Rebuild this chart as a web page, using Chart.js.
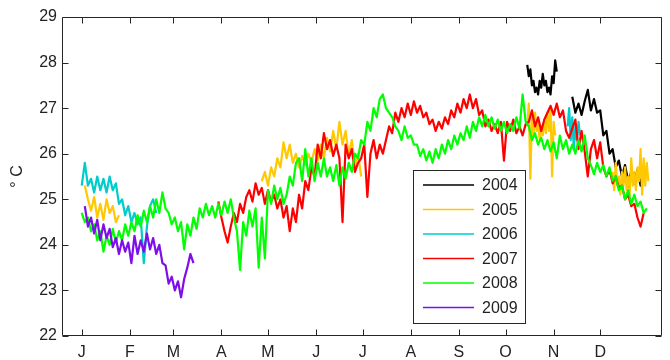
<!DOCTYPE html>
<html>
<head>
<meta charset="utf-8">
<script src="https://cdn.jsdelivr.net/npm/chart.js@4.4.1/dist/chart.umd.min.js"></script>
<style>
  html, body { margin: 0; padding: 0; background: #fff; }
</style>
</head>
<body>
<canvas id="myChart" width="670" height="360"></canvas>
<script>
// x axis is day of year, tick at the first day of each month
const month_days = [1, 32, 60, 91, 121, 152, 182, 213, 244, 274, 305, 335];
const month_labels = ["J", "F", "M", "A", "M", "J", "J", "A", "S", "O", "N", "D"];
const year_labels = ["2004", "2005", "2006", "2007", "2008", "2009"];
const year_colors = ["#000000", "#ffc800", "#00cccc", "#ff0000", "#00ff00", "#7f0fe8"];

// each segment: [first day, day step, values]
const t2004_a = [27.95, 27.7, 27.85, 27.5, 27.6, 27.35, 27.45, 27.3, 27.6, 27.45,
  27.75, 27.5, 27.6, 27.35, 27.45, 27.3, 27.7, 27.55, 28.05, 27.8];
const t2004_b = [27.25, 26.9, 27.1, 26.85, 27.15, 27.4, 26.95, 27.2, 26.9, 26.95,
  26.4, 26.5, 26.0, 26.1, 25.7, 25.85, 25.5, 25.75, 25.4, 25.6,
  25.35, 25.65, 25.3, 25.7, 25.5];

const t2005_a = [25.3, 25.0, 24.75, 25.05, 24.6, 24.9, 24.55, 25.0, 24.7, 24.85, 24.5, 24.65];
const t2005_b = [25.4, 25.6, 25.3, 25.7, 25.5, 25.9, 25.7, 26.25, 25.9, 26.2,
  25.8, 26.0, 25.7, 25.95, 25.75, 26.0, 25.8, 26.1, 25.85, 26.2,
  25.9, 26.35, 26.05, 26.5, 26.1, 26.7, 26.2, 26.5, 25.95, 26.3,
  25.7, 26.0, 25.5];
const t2005_c = [26.6, 27.1, 25.45, 26.8, 26.4, 26.9, 26.5, 26.7, 26.3, 26.6,
  26.4, 26.75, 26.45, 26.9, 26.5, 27.0, 25.5, 26.7, 26.4];
const t2005_d = [25.6, 25.2, 25.8, 25.3, 25.5, 25.1, 25.6, 25.3, 25.7, 25.2,
  25.5, 25.1, 25.9, 25.3, 25.6, 25.2, 25.7, 25.4, 26.1, 25.1,
  25.9, 25.3, 25.8, 25.4];

const t2006_a = [25.3, 25.8, 25.3, 25.45, 25.15, 25.5, 25.2, 25.45, 25.15, 25.5,
  25.2, 25.35, 24.9, 25.0, 24.65, 24.85, 24.5, 24.7, 24.45, 24.6,
  23.6, 24.4, 24.85, 25.0, 24.7];
const t2006_b = [26.6, 27.0, 26.3, 26.8, 26.1, 26.6, 26.3, 26.7, 26.4];

const t2007 = [24.95, 24.6, 24.3, 24.05, 24.4, 24.7, 24.5, 24.9, 24.7, 25.05,
  25.2, 24.95, 25.35, 25.1, 25.25, 24.9, 25.2, 24.95, 25.1, 24.8,
  25.0, 24.6, 24.85, 24.3, 24.8, 24.5, 25.1, 24.8, 25.4, 25.2,
  25.7, 25.5, 26.2, 25.9, 26.45, 26.1, 26.3, 25.95, 26.2, 25.9,
  24.5, 26.2, 25.9, 26.1, 25.6, 25.8, 25.9, 26.2, 25.05, 26.0,
  26.3, 25.9, 26.2, 26.0, 26.3, 26.6, 26.45, 26.9, 26.7, 27.0,
  26.8, 27.1, 26.85, 27.15, 26.9, 27.05, 26.8, 26.9, 26.65, 26.75,
  26.5, 26.7, 26.55, 26.8, 26.65, 26.95, 26.8, 27.1, 26.9, 27.2,
  27.0, 27.3, 27.0, 27.2, 26.85, 26.95, 26.6, 26.75, 26.5, 26.65,
  26.45, 26.7, 25.85, 26.7, 26.5, 26.75, 26.45, 26.6, 26.4, 26.65,
  26.7, 26.95, 26.6, 26.8, 26.5, 26.75, 26.9, 27.05, 26.85, 27.1,
  26.8, 26.95, 26.5, 26.35, 26.55, 26.75, 26.1, 26.5, 26.05, 25.5,
  26.1, 26.3, 25.9, 26.25, 25.7, 25.5, 25.65, 25.35, 25.5, 25.25,
  25.3, 25.0, 25.1, 24.85, 24.9, 24.6, 24.4, 24.7];

const t2008 = [24.7, 24.5, 24.6, 24.3, 24.45, 24.1, 24.3, 23.85, 24.2, 24.0,
  24.35, 24.05, 24.3, 24.1, 24.45, 24.2, 24.5, 24.3, 24.65, 24.4,
  24.75, 24.5, 24.85, 24.6, 25.0, 24.7, 25.15, 24.8, 24.7, 24.45,
  24.6, 24.3, 24.5, 23.9, 24.45, 24.2, 24.6, 24.35, 24.8, 24.6,
  24.9, 24.65, 24.85, 24.6, 24.9, 24.65, 24.95, 24.7, 25.0, 24.6,
  24.3, 23.45, 24.5, 24.2, 24.75, 24.4, 24.8, 23.5, 24.6, 23.7,
  25.2, 24.9, 25.3, 25.0, 25.25, 24.9, 25.1, 25.5, 25.3, 25.8,
  25.9, 25.4, 26.1, 25.5, 25.9, 25.4, 25.8, 25.5, 25.9, 25.5,
  25.7, 25.4, 25.75, 25.3, 25.7, 25.45, 25.8, 25.6, 26.0, 25.9,
  26.3, 26.2, 26.7, 26.5, 27.0, 26.8, 27.2, 27.3, 27.0, 26.9,
  26.8, 26.6, 26.5, 26.3, 26.6, 26.35, 26.4, 26.2, 26.2, 25.95,
  26.1, 25.85, 26.05, 25.8, 26.1, 25.9, 26.2, 26.0, 26.3, 26.1,
  26.4, 26.2, 26.45, 26.3, 26.6, 26.35, 26.7, 26.5, 26.8, 26.6,
  26.85, 26.6, 26.8, 26.55, 26.75, 26.5, 26.7, 26.45, 26.65, 26.5,
  26.8, 26.55, 27.3, 26.7, 26.6, 26.3, 26.45, 26.2, 26.35, 26.1,
  26.3, 26.05, 26.25, 25.9, 26.4, 26.1, 26.3, 26.0, 26.2, 26.0,
  26.3, 26.05, 26.4, 25.9, 25.75, 25.55, 25.8, 25.6, 25.75, 25.5,
  25.7, 25.4, 25.5, 25.2, 25.3, 25.0, 25.2, 24.9, 25.1, 24.85,
  24.95, 24.7, 24.8];

const t2009 = [24.85, 24.4, 24.6, 24.25, 24.55, 24.1, 24.45, 24.15, 24.35, 23.95,
  24.15, 23.8, 24.1, 23.85, 24.05, 23.6, 24.2, 23.8, 24.1, 23.85,
  24.25, 23.9, 24.15, 23.8, 24.0, 23.6, 23.55, 23.15, 23.3, 23.0,
  23.2, 22.85, 23.25, 23.5, 23.8, 23.6];

const segments = [
  [[288, 1, t2004_a], [317, 2, t2004_b]],
  [[3, 2, t2005_a], [117, 2, t2005_b], [288, 1, t2005_c], [343, 1, t2005_d]],
  [[1, 2, t2006_a], [314, 1, t2006_b]],
  [[89, 2, t2007]],
  [[1, 2, t2008]],
  [[3, 2, t2009]],
];

let make_points = (segs) => {
  let pts = [];
  segs.forEach(([start, step, vals], k) => {
    if (k > 0) pts.push({ x: start - 0.5, y: null });
    vals.forEach((v, i) => pts.push({ x: start + i * step, y: v }));
  });
  return pts;
};

const font_family = "'Liberation Sans', Arial, sans-serif";
const text_color = "#222";

// matlab style box with inward ticks on all four sides
const box_ticks = {
  id: "box_ticks",
  afterDatasetsDraw(chart) {
    const { ctx, chartArea: a, scales } = chart;
    const L = Math.round(a.left) + 0.5;
    const R = Math.round(a.right) - 0.5;
    const T = Math.round(a.top) + 0.5;
    const B = Math.round(a.bottom) - 0.5;
    const len = 6;
    ctx.save();
    ctx.strokeStyle = "#262626";
    ctx.lineWidth = 1;
    ctx.beginPath();
    ctx.rect(L, T, R - L, B - T);
    scales.x.ticks.forEach((t) => {
      let px = Math.round(scales.x.getPixelForValue(t.value)) + 0.5;
      ctx.moveTo(px, B);
      ctx.lineTo(px, B - len);
      ctx.moveTo(px, T);
      ctx.lineTo(px, T + len);
    });
    scales.y.ticks.forEach((t) => {
      let py = Math.round(scales.y.getPixelForValue(t.value)) + 0.5;
      ctx.moveTo(L, py);
      ctx.lineTo(L + len, py);
      ctx.moveTo(R, py);
      ctx.lineTo(R - len, py);
    });
    ctx.stroke();

    // legend box
    const lx = 413.5, ly = 170.5, lw = 112, lh = 153;
    ctx.fillStyle = "#fff";
    ctx.fillRect(lx, ly, lw, lh);
    ctx.strokeStyle = "#262626";
    ctx.strokeRect(lx, ly, lw, lh);
    ctx.font = "16px " + font_family;
    ctx.textBaseline = "middle";
    ctx.textAlign = "left";
    chart.data.datasets.forEach((ds, i) => {
      let ry = 185 + i * 24.5;
      ctx.strokeStyle = ds.borderColor;
      ctx.lineWidth = 1.5;
      ctx.beginPath();
      ctx.moveTo(423, ry);
      ctx.lineTo(474, ry);
      ctx.stroke();
      ctx.fillStyle = text_color;
      ctx.fillText(ds.label, 482, ry + 1);
    });
    ctx.restore();
  },
};

const ctx = document.getElementById("myChart").getContext("2d");

const myChart = new Chart(ctx, {
  type: "line",
  data: {
    datasets: year_labels.map((label, i) => ({
      label: label,
      data: make_points(segments[i]),
      borderColor: year_colors[i],
      borderWidth: 2.2,
      borderJoinStyle: "round",
      pointRadius: 0,
      tension: 0,
      spanGaps: false,
      order: year_labels.length - i,
    })),
  },
  options: {
    responsive: false,
    animation: false,
    devicePixelRatio: 1,
    layout: { padding: { top: 17, right: 8, left: 0, bottom: 0 } },
    plugins: {
      legend: { display: false },
      tooltip: { enabled: false },
    },
    scales: {
      x: {
        type: "linear",
        min: -11.7,
        max: 374.8,
        afterBuildTicks: (scale) => {
          scale.ticks = month_days.map((d) => ({ value: d }));
        },
        afterFit: (scale) => {
          scale.height = 24;
        },
        grid: { display: false, drawTicks: false },
        border: { display: false },
        ticks: {
          autoSkip: false,
          maxRotation: 0,
          padding: 7,
          color: text_color,
          font: { family: font_family, size: 16 },
          callback: (value, index) => month_labels[index],
        },
      },
      y: {
        min: 22,
        max: 29,
        afterFit: (scale) => {
          scale.width = 62;
        },
        grid: { display: false, drawTicks: false },
        border: { display: false },
        ticks: {
          stepSize: 1,
          padding: 5,
          color: text_color,
          font: { family: font_family, size: 16 },
        },
        title: {
          display: true,
          text: "° C",
          color: text_color,
          padding: { top: 8, bottom: 0 },
          font: { family: font_family, size: 16 },
        },
      },
    },
  },
  plugins: [box_ticks],
});
</script>
</body>
</html>
